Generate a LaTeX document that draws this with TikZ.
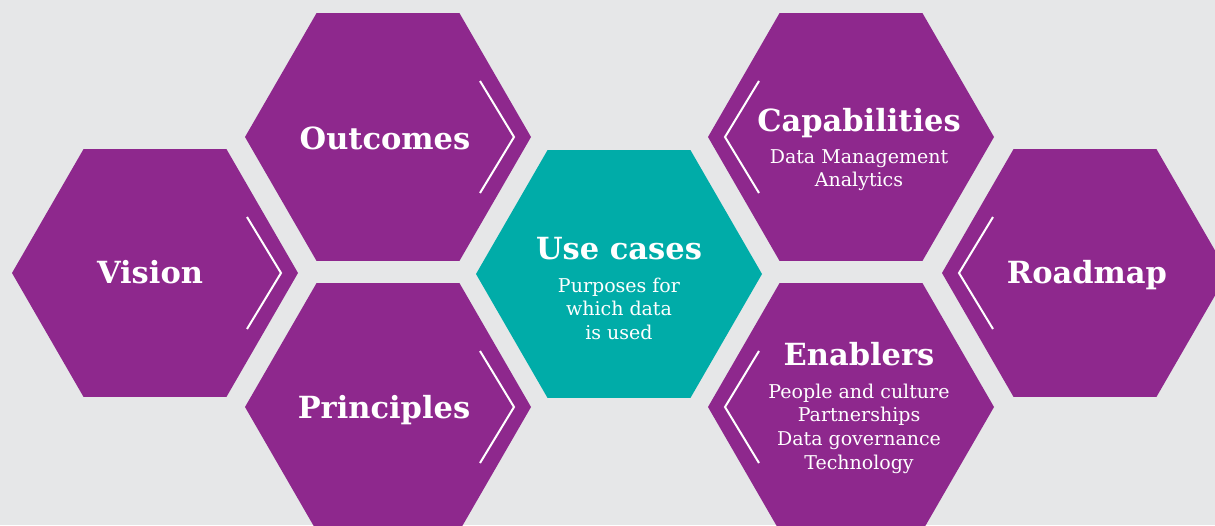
\documentclass[tikz,border=0pt]{standalone}
\usepackage{fontspec}
\setmainfont{DejaVu Serif}
\usetikzlibrary{shapes.geometric}
\definecolor{hexpurple}{HTML}{8E288D}
\definecolor{hexteal}{HTML}{00ACA8}
\definecolor{backgrey}{HTML}{E6E7E8}
\tikzset{
 hexa/.style={regular polygon,regular polygon sides=6,minimum size=286pt,inner sep=0pt,outer sep=0pt,fill=hexpurple},
 hextitle/.style={text=white,font=\bfseries\fontsize{30.5}{36}\selectfont,anchor=base,inner sep=0pt},
 hexsub/.style={text=white,font=\fontsize{19}{23.7}\selectfont,align=center,anchor=base,inner sep=0pt},
 chev/.style={white,line width=2pt}
}
\begin{document}
\begin{tikzpicture}[x=1pt,y=-1pt]
 \useasboundingbox (0,0) rectangle (1215,525);
 \clip (0,0) rectangle (1215,525);
 \fill[backgrey] (0,0) rectangle (1215,525);
 % the honeycomb
 \node[hexa] (vision) at (155,273) {};
 \node[hexa] (outcomes) at (388,137) {};
 \node[hexa] (principles) at (388,407) {};
 \node[hexa,fill=hexteal] (usecases) at (619,274) {};
 \node[hexa] (capab) at (851,137) {};
 \node[hexa] (enablers) at (851,407) {};
 \node[hexa] (roadmap) at (1085,273) {};
 % chevrons
 \foreach \h in {vision,outcomes,principles}
  \draw[chev] ([xshift=-17pt]\h.east) ++(-34,-56) -- ++(34,56) -- ++(-34,56);
 \foreach \h in {capab,enablers,roadmap}
  \draw[chev] ([xshift=17pt]\h.west) ++(34,-56) -- ++(-34,56) -- ++(34,56);
 % labels (base of a sub node is its last line)
 \node[hextitle] (visiont) at ([shift={(-5,10)}]vision.center) {Vision};
 \node[hextitle] (outcomest) at ([shift={(-3,12)}]outcomes.center) {Outcomes};
 \node[hextitle] (principlest) at ([shift={(-4,11)}]principles.center) {Principles};
 \node[hextitle] (roadmapt) at ([shift={(2,10)}]roadmap.center) {Roadmap};
 \node[hextitle] (usecasest) at ([shift={(0,-15)}]usecases.center) {Use cases};
 \node[hexsub] (usecasess) at ([shift={(0,80.4)}]usecasest.base) {Purposes for\\which data\\is used};
 \node[hextitle] (capabt) at ([shift={(8,-6)}]capab.center) {Capabilities};
 \node[hexsub] (capabs) at ([shift={(0,55.7)}]capabt.base) {Data Management\\Analytics};
 \node[hextitle] (enablerst) at ([shift={(8,-42)}]enablers.center) {Enablers};
 \node[hexsub] (enablerss) at ([shift={(0,104.1)}]enablerst.base) {People and culture\\Partnerships\\Data governance\\Technology};
\end{tikzpicture}
\end{document}
